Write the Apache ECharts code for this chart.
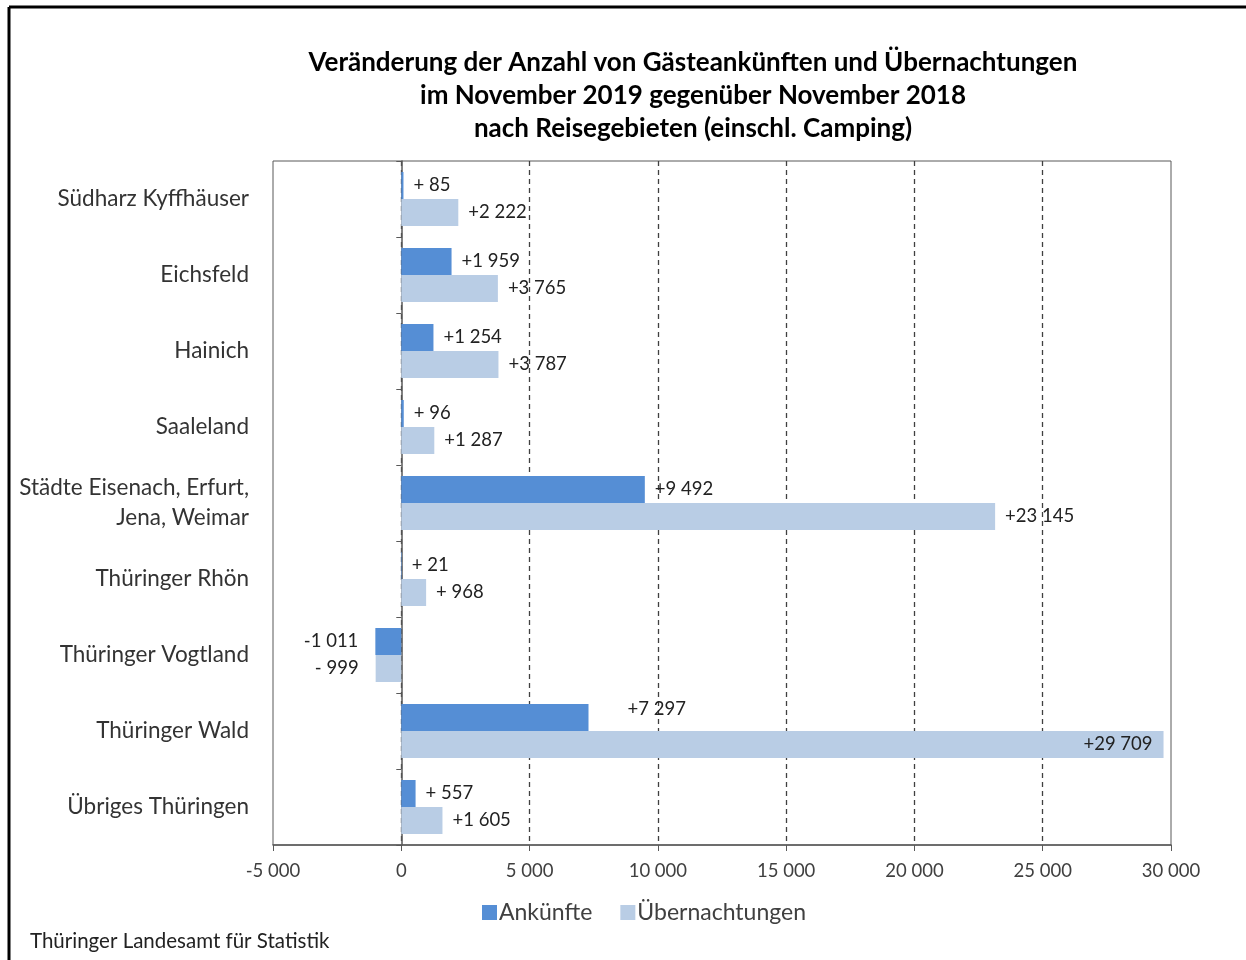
<!DOCTYPE html>
<html>
<head>
<meta charset="utf-8">
<script src="https://cdn.jsdelivr.net/npm/echarts@6/dist/echarts.min.js"></script>
<style>
  html, body { margin: 0; padding: 0; background: #fff; }
  #chart { width: 1246px; height: 960px; }
</style>
</head>
<body>
<div id="chart"></div>
<script>
"use strict";

var regions = ["Südharz Kyffhäuser", "Eichsfeld", "Hainich", "Saaleland",
    "Städte Eisenach, Erfurt,\nJena, Weimar", "Thüringer Rhön", "Thüringer Vogtland",
    "Thüringer Wald", "Übriges Thüringen"];
var ankuenfte = [85, 1959, 1254, 96, 9492, 21, -1011, 7297, 557];
var uebernachtungen = [2222, 3765, 3787, 1287, 23145, 968, -999, 29709, 1605];
var seriesNames = ["Ankünfte", "Übernachtungen"];
var xTicks = { min: -5000, max: 30000, step: 5000 };

var FONT = "Lato";

function thousands(a) {
    var s = String(a);
    return s.replace(/\B(?=(\d{3})+(?!\d))/g, " ");
}

// Excel-like "+# ##0" labels, short numbers get a space after the sign
function signed(v) {
    var a = Math.abs(v);
    var sign = v < 0 ? "-" : "+";
    return a < 1000 ? sign + " " + a : sign + thousands(a);
}

function barData(values) {
    return values.map(function (v) {
        var item = { value: v };
        if (v < 0) {
            item.label = { position: "left", distance: 17 };
        } else if (v > 25000) {
            item.label = { position: "insideRight", distance: 11 };
        } else if (v === 7297) {
            item.label = { offset: [29, -8] };
        }
        return item;
    });
}

var chart = echarts.init(document.getElementById("chart"));

chart.setOption({
    animation: false,
    textStyle: { fontFamily: FONT },
    title: {
        text: "Veränderung der Anzahl von Gästeankünften und Übernachtungen\nim November 2019 gegenüber November 2018\nnach Reisegebieten (einschl. Camping)",
        left: 688,
        top: 41,
        textAlign: "center",
        textStyle: {
            fontFamily: FONT,
            fontSize: 26,
            fontWeight: "bold",
            lineHeight: 33,
            color: "#000"
        }
    },
    legend: {
        data: seriesNames,
        left: 477,
        top: 896,
        itemWidth: 15,
        itemHeight: 15,
        itemGap: 28,
        icon: "rect",
        textStyle: { fontFamily: FONT, fontSize: 23, color: "#404040", padding: [0, 0, 0, -3] }
    },
    grid: {
        left: 273,
        right: 75,
        top: 161,
        bottom: 115,
        show: true,
        borderColor: "#595959",
        borderWidth: 1,
        containLabel: false
    },
    xAxis: {
        type: "value",
        min: xTicks.min,
        max: xTicks.max,
        interval: xTicks.step,
        axisLine: { show: true, onZero: false, lineStyle: { color: "#595959", width: 1.5 } },
        axisTick: { show: true, length: 6, lineStyle: { color: "#595959" } },
        splitLine: {
            show: true,
            showMinLine: false,
            showMaxLine: false,
            lineStyle: { color: "#404040", type: [5, 4], width: 1.3 }
        },
        axisLabel: {
            margin: 17,
            fontSize: 18.5,
            color: "#404040",
            fontFamily: FONT,
            formatter: function (v) { return (v < 0 ? "-" : "") + thousands(Math.abs(v)); }
        }
    },
    yAxis: [{
        type: "category",
        data: regions,
        inverse: true,
        position: "left",
        axisLine: { show: false, onZero: false },
        axisTick: { show: false },
        axisLabel: {
            margin: 24,
            fontSize: 22.5,
            lineHeight: 30,
            color: "#333",
            fontFamily: FONT
        }
    }, {
        type: "category",
        data: regions,
        inverse: true,
        position: "left",
        axisLine: { show: true, onZero: true, lineStyle: { color: "#595959", width: 1.5 } },
        axisTick: { show: true, length: 5, lineStyle: { color: "#595959" } },
        axisLabel: { show: false },
        splitLine: { show: false }
    }],
    series: [{
        name: seriesNames[0],
        type: "bar",
        yAxisIndex: 0,
        data: barData(ankuenfte),
        barWidth: 27,
        barGap: "0%",
        itemStyle: { color: "#558ED5" },
        label: {
            show: true,
            position: "right",
            distance: 10,
            fontSize: 18.5,
            color: "#222",
            fontFamily: FONT,
            formatter: function (p) { return signed(p.value); }
        }
    }, {
        name: seriesNames[1],
        type: "bar",
        yAxisIndex: 0,
        data: barData(uebernachtungen),
        barWidth: 27,
        barGap: "0%",
        itemStyle: { color: "#B9CDE5" },
        label: {
            show: true,
            position: "right",
            distance: 10,
            fontSize: 18.5,
            color: "#222",
            fontFamily: FONT,
            formatter: function (p) { return signed(p.value); }
        }
    }],
    graphic: [{
        type: "line",
        shape: { x1: 9, y1: 7, x2: 1246, y2: 7 },
        style: { stroke: "#000", lineWidth: 3 }
    }, {
        type: "line",
        shape: { x1: 9, y1: 7, x2: 9, y2: 960 },
        style: { stroke: "#000", lineWidth: 3 }
    }, {
        type: "text",
        left: 30,
        top: 931,
        style: {
            text: "Thüringer Landesamt für Statistik",
            fontFamily: FONT,
            fontSize: 20.5,
            fill: "#222"
        }
    }]
});
</script>
</body>
</html>
